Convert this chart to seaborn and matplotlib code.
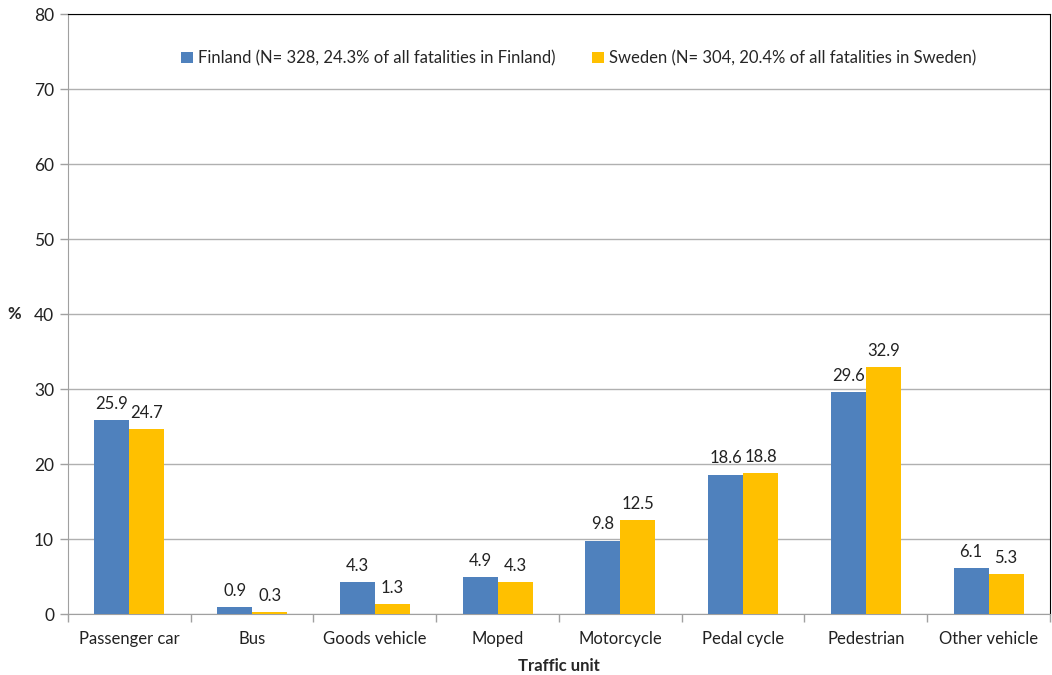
import matplotlib
matplotlib.use("Agg")
import matplotlib.pyplot as plt
import seaborn as sns
import pandas as pd

categories = ['Passenger car', 'Bus', 'Goods vehicle', 'Moped', 'Motorcycle',
              'Pedal cycle', 'Pedestrian', 'Other vehicle']
finland = [25.9, 0.9, 4.3, 4.9, 9.8, 18.6, 29.6, 6.1]
sweden = [24.7, 0.3, 1.3, 4.3, 12.5, 18.8, 32.9, 5.3]
series_names = ['Finland (N= 328, 24.3% of all fatalities in Finland)',
                'Sweden (N= 304, 20.4% of all fatalities in Sweden)']
y_ticks = [0, 10, 20, 30, 40, 50, 60, 70, 80]

df = pd.DataFrame({
    'unit': categories * 2,
    'value': finland + sweden,
    'country': [series_names[0]] * len(categories) + [series_names[1]] * len(categories),
})

sns.set_style('white')
plt.rcParams['font.family'] = ['Lato', 'DejaVu Sans']

fig, ax = plt.subplots(figsize=(10.52, 6.75), dpi=100)
fig.subplots_adjust(left=0.0646, right=0.998, top=0.979, bottom=0.09)

sns.barplot(data=df, x='unit', y='value', hue='country', ax=ax,
            palette=['#4F81BD', '#FFC000'], width=0.57, saturation=1,
            edgecolor='none', zorder=3)

for container in ax.containers:
    ax.bar_label(container, fmt='%.1f', padding=6, fontsize=12, color='#222222')

ax.set_ylim(0, 80)
ax.set_yticks(y_ticks)
ax.set_xlim(-0.5, len(categories) - 0.5)
ax.yaxis.grid(True, color='#b0b0b0', linewidth=1, zorder=0)
ax.set_axisbelow(True)

# tick marks between categories
ax.set_xticks(range(len(categories)))
ax.set_xticklabels(categories)
ax.set_xticks([i - 0.5 for i in range(len(categories) + 1)], minor=True)
ax.tick_params(axis='x', which='major', length=0, pad=12, labelsize=12, colors='#222222')
ax.tick_params(axis='x', which='minor', length=6, color='#a0a0a0', width=1, direction='out')
ax.tick_params(axis='y', length=6, color='#a0a0a0', width=1, direction='out',
               labelsize=12.5, pad=4, labelcolor='#222222')
ax.tick_params(bottom=True, left=True, which='both')

for side in ['left', 'bottom']:
    ax.spines[side].set_color('#a0a0a0')
for side in ['top', 'right']:
    ax.spines[side].set_color('#000000')

ax.set_xlabel('Traffic unit', fontsize=12, fontweight='bold', labelpad=8)
ax.set_ylabel('%', fontsize=12, fontweight='bold', rotation=0, labelpad=14, va='center')

ax.legend(loc='upper center', bbox_to_anchor=(0.52, 0.965), ncol=2, frameon=False,
          fontsize=12, handlelength=0.7, handleheight=0.7, handletextpad=0.3,
          columnspacing=2.2, title=None)

fig.savefig('out.png', dpi=100)
